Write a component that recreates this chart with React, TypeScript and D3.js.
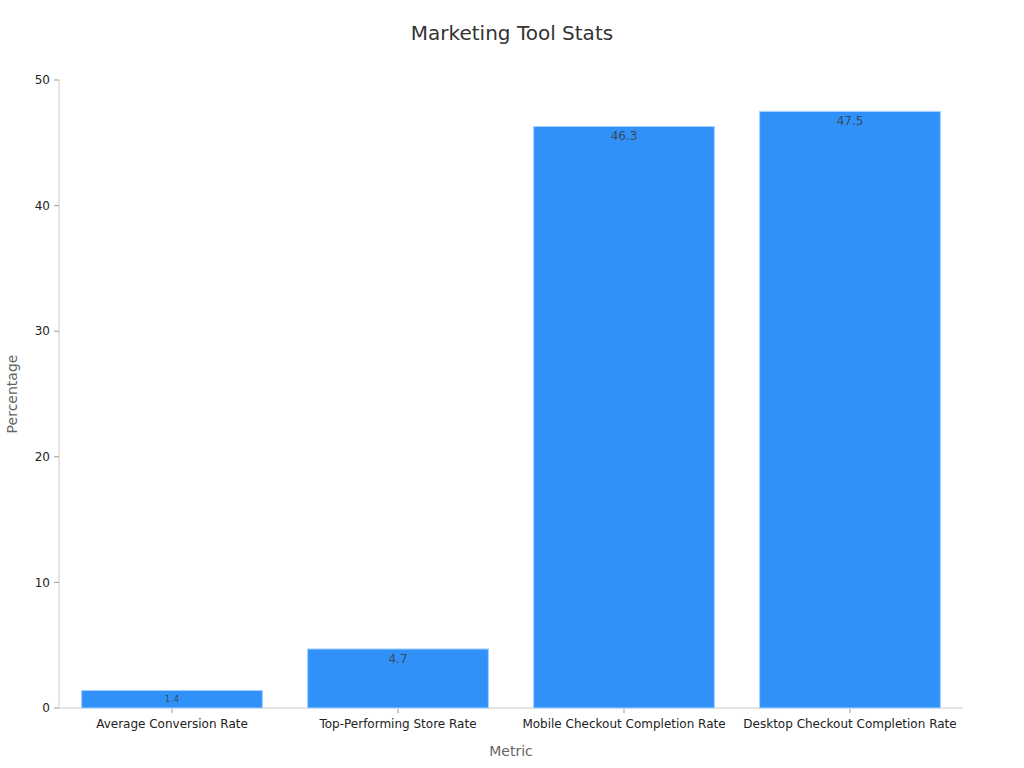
import React from "react";
import * as d3 from "d3";

const categories = [
  "Average Conversion Rate",
  "Top-Performing Store Rate",
  "Mobile Checkout Completion Rate",
  "Desktop Checkout Completion Rate",
];
const values = [1.4, 4.7, 46.3, 47.5];
const yTicks = [0, 10, 20, 30, 40, 50];

const W = 1024;
const H = 768;
const left = 59;
const right = 963;
const top = 80;
const bottom = 708;
const font = "DejaVu Sans, sans-serif";

export default function App() {
  const x = d3
    .scaleBand<string>()
    .domain(categories)
    .range([left, right])
    .paddingInner(0.2)
    .paddingOuter(0.1);
  const y = d3.scaleLinear().domain([0, 50]).range([bottom, top]);
  return (
    <svg width={W} height={H} style={{ position: "absolute", left: 0, top: 0 }} fontFamily={font}>
      <rect width={W} height={H} fill="#fff" />
      <text x={512} y={40} textAnchor="middle" fontSize={20} fill="#333">
        Marketing Tool Stats
      </text>
      {/* y axis */}
      <line x1={left} x2={left} y1={top} y2={bottom} stroke="#ccc" />
      {yTicks.map((t) => (
        <g key={t}>
          <line x1={left - 5} x2={left} y1={y(t)} y2={y(t)} stroke="#999" />
          <text x={left - 9} y={y(t)} dy="0.35em" textAnchor="end" fontSize={12} fill="#222">
            {t}
          </text>
        </g>
      ))}
      {/* x axis */}
      <line x1={left} x2={right} y1={bottom} y2={bottom} stroke="#ccc" />
      {categories.map((c, i) => {
        const cx = (x(c) as number) + x.bandwidth() / 2;
        const v = values[i];
        const bh = bottom - y(v);
        const small = bh < 20;
        return (
          <g key={c}>
            <rect
              x={x(c)}
              y={y(v)}
              width={x.bandwidth()}
              height={bh}
              fill="#3092f8"
              stroke="#a8d0ff"
              strokeWidth={1}
            />
            <text
              x={cx}
              y={small ? y(v) + bh / 2 : y(v) + 14}
              dy={small ? "0.35em" : undefined}
              textAnchor="middle"
              fontSize={small ? 9 : 12}
              fill="#3a4a5c"
            >
              {v}
            </text>
            <line x1={cx} x2={cx} y1={bottom + 1} y2={bottom + 5} stroke="#999" />
            <text x={cx} y={bottom + 20} textAnchor="middle" fontSize={12} fill="#222">
              {c}
            </text>
          </g>
        );
      })}
      <text x={(left + right) / 2} y={756} textAnchor="middle" fontSize={14} fill="#666">
        Metric
      </text>
      <text
        transform={`translate(17,${(top + bottom) / 2}) rotate(-90)`}
        textAnchor="middle"
        fontSize={14}
        fill="#666"
      >
        Percentage
      </text>
    </svg>
  );
}
